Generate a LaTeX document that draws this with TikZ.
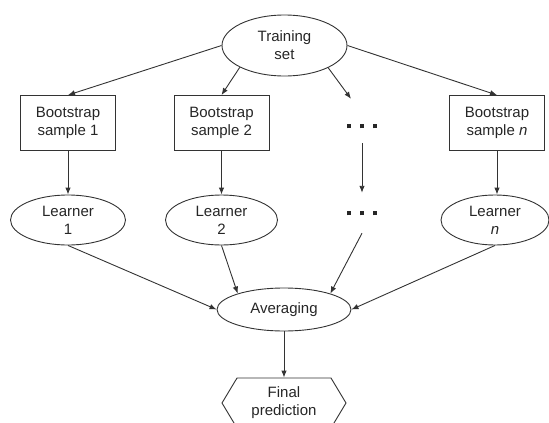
\documentclass[tikz,border=0pt]{standalone}
\usepackage{fontspec}
\setmainfont{Liberation Sans}
\usetikzlibrary{shapes.geometric,shapes.symbols,arrows.meta}

% three square dots for the skipped samples
\newcommand{\sqdots}{\rule{4.5pt}{4.5pt}\hspace{8.5pt}\rule{4.5pt}{4.5pt}\hspace{8.5pt}\rule{4.5pt}{4.5pt}}

\begin{document}
\begin{tikzpicture}[x=1pt, y=-1pt, >={Latex[length=7pt,width=5.5pt]},
    every node/.style={font=\fontsize{15}{18}\selectfont, text=black!85, align=center, inner sep=0pt},
    sample/.style={draw=black!80, line width=0.9pt, rectangle, minimum width=95pt, minimum height=55pt},
    oval/.style={draw=black!80, line width=0.9pt, ellipse, minimum height=50pt},
    link/.style={->, draw=black!80, line width=0.9pt}]
    \useasboundingbox (0,0) rectangle (549,423);

    % Training set on top
    \node[oval, minimum width=125pt, minimum height=61pt] (train) at (284.5,45.5) {Training\\set};

    % Bootstrap samples
    \node[sample] (boot1) at (68,123) {Bootstrap\\sample 1};
    \node[sample] (boot2) at (221.5,123) {Bootstrap\\sample 2};
    \node[minimum height=34pt] (dotsa) at (362,126) {\sqdots};
    \node[sample] (bootn) at (497,123) {Bootstrap\\sample \textit{n}};

    % Learners
    \node[oval, minimum width=115pt] (learn1) at (68,220) {Learner\\1};
    \node[oval, minimum width=112pt] (learn2) at (221.5,220) {Learner\\2};
    \node[minimum height=40pt] (dotsb) at (362,213) {\sqdots};
    \node[oval, minimum width=108pt] (learnn) at (495,220) {Learner\\\textit{n}};

    % Averaging and final prediction
    \node[oval, minimum width=134pt, minimum height=43pt] (avg) at (284,309.5) {Averaging};
    \node[draw=black!80, line width=0.9pt, signal, signal to=west and east, signal pointer angle=118,
          minimum width=124pt, minimum height=50pt] (final) at (284,403) {Final\\prediction};

    % Training set to the samples
    \draw[link] (train.west) -- (boot1.north);
    \draw[link] (train.206) -- (boot2.north);
    \draw[link] (train.333) -- ([xshift=-11pt,yshift=10pt]dotsa.north);
    \draw[link] (train.east) -- (bootn.north);

    % Samples to the learners
    \draw[link] (boot1.south) -- (learn1.north);
    \draw[link] (boot2.south) -- (learn2.north);
    \draw[link] (dotsa.south) -- (dotsb.north);
    \draw[link] (bootn.south) -- (bootn.south |- learnn.north);

    % Learners to the averaging
    \draw[link] (learn1.south) -- (avg.west);
    \draw[link] (learn2.south) -- (avg.161);
    \draw[link] (dotsb.south) -- (avg.19);
    \draw[link] (learnn.south) -- (avg.east);

    \draw[link] (avg.south) -- (final.north);

\end{tikzpicture}
\end{document}
